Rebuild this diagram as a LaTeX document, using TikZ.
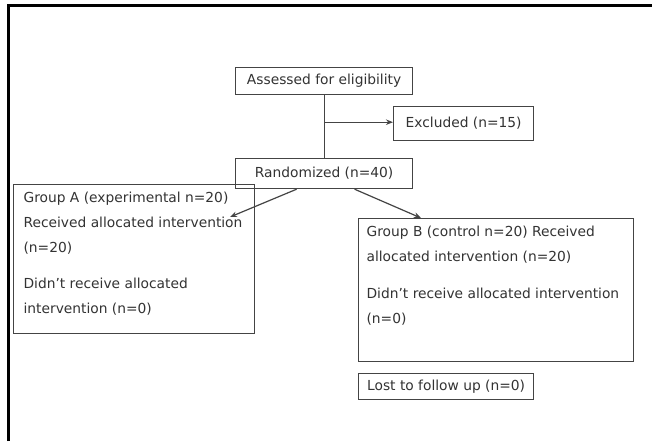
\documentclass[tikz,border=0pt]{standalone}
\usepackage{fontspec}
\setmainfont{DejaVu Sans}
\usetikzlibrary{arrows.meta}
\definecolor{boxgray}{HTML}{444444}
\definecolor{txtgray}{HTML}{333333}
\begin{document}
\begin{tikzpicture}[x=1pt,y=-1pt,
  sbox/.style={draw=boxgray, line width=1.2pt, anchor=north west, inner sep=0pt,
    font=\fontsize{13.8}{16}\selectfont, text=txtgray},
  bigbox/.style={draw=boxgray, line width=1.2pt, anchor=north west, inner sep=0pt,
    font=\fontsize{13.8}{25}\selectfont, text=txtgray},
  conn/.style={draw=boxgray, line width=1.2pt},
  arr/.style={conn, -{Stealth[length=7pt,width=5.5pt]}},
  frame/.style={draw=black, line width=2.2pt}]
\useasboundingbox (0,0) rectangle (652,441);
\fill[white] (0,0) rectangle (652,441);
\draw[frame] (8.5,441) -- (8.5,5.5) -- (652,5.5);

\node[sbox, minimum width=177pt, minimum height=27pt] (as) at (235,67) {Assessed for eligibility};
\node[sbox, minimum width=140pt, minimum height=34pt] (ex) at (393,106) {Excluded (n=15)};
\node[sbox, minimum width=177pt, minimum height=30pt] (rd) at (235,158) {Randomized (n=40)};
\node[bigbox] (ga) at (13,184) {\parbox[t][149pt][t]{241pt}{\leftskip=10pt
\rule{0pt}{17.5pt}Group A (experimental n=20)\\
Received allocated intervention\\
(n=20)\\[11pt]
Didn't receive allocated\\
intervention (n=0)}};
\node[bigbox] (gb) at (358,218) {\parbox[t][143pt][t]{275pt}{\leftskip=8pt
\rule{0pt}{17.5pt}Group B (control n=20) Received\\
allocated intervention (n=20)\\[12pt]
Didn't receive allocated intervention\\
(n=0)}};
\node[sbox, minimum width=175pt, minimum height=26pt] (lf) at (358,373) {Lost to follow up (n=0)};

\path (as.south) ++(0,27) coordinate (br);
\coordinate (ra) at ([xshift=-27.5pt]rd.south);
\coordinate (ta) at (230,217);
\coordinate (rb) at ([xshift=30.5pt]rd.south);
\coordinate (tb) at ([xshift=63pt]gb.north west);

\draw[conn] (as.south) -- (rd.north);
\draw[arr] (br) -- (br -| ex.west);
\draw[arr] (ra) -- (ta);
\draw[arr] (rb) -- (tb);
\end{tikzpicture}
\end{document}
